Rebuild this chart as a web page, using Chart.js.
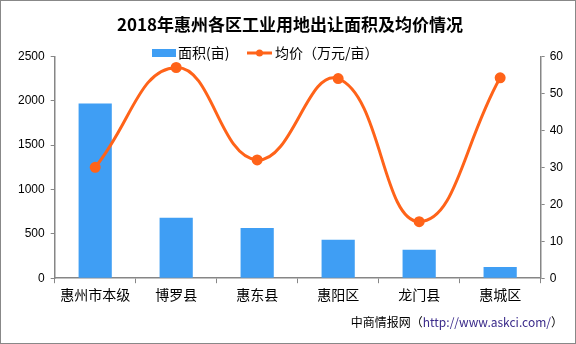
<!DOCTYPE html>
<html lang="zh">
<head>
<meta charset="UTF-8">
<title>2018年惠州各区工业用地出让面积及均价情况</title>
<script src="https://cdn.jsdelivr.net/npm/chart.js"></script>
<style>
  html, body { margin: 0; padding: 0; background: #fff; }
  #wrap { width: 576px; height: 344px; position: relative; }
</style>
</head>
<body>
<div id="wrap"><canvas id="chart" width="576" height="344"></canvas></div>
<script>
// data
const districts = ['惠州市本级', '博罗县', '惠东县', '惠阳区', '龙门县', '惠城区'];
const areaMu = [1970, 680, 566, 432, 320, 127];       // 面积(亩)
const avgPrice = [30, 57, 32, 54, 15.3, 54.2];         // 均价（万元/亩）
const areaTicks = [0, 500, 1000, 1500, 2000, 2500];
const priceTicks = [0, 10, 20, 30, 40, 50, 60];

const BLUE = '#3f9ef4';
const ORANGE = '#ff6319';
const AXIS = '#868686';
const FONT = '"Liberation Sans", "Noto Sans CJK SC", sans-serif';
const CJK = '"Noto Sans CJK SC", sans-serif';

// legend, source line and frame drawn by hand
const extras = {
  id: 'extras',
  afterDraw(chart) {
    const ctx = chart.ctx;
    ctx.save();
    // legend
    ctx.font = '14px ' + CJK;
    ctx.textBaseline = 'middle';
    const ly = 53;
    ctx.fillStyle = BLUE;
    ctx.fillRect(152, ly - 4, 24, 8);
    ctx.fillStyle = '#000';
    ctx.fillText('面积(亩)', 178, ly);
    ctx.strokeStyle = ORANGE;
    ctx.lineWidth = 3;
    ctx.beginPath();
    ctx.moveTo(247, ly);
    ctx.lineTo(272, ly);
    ctx.stroke();
    ctx.fillStyle = ORANGE;
    ctx.beginPath();
    ctx.arc(259.5, ly, 3.5, 0, Math.PI * 2);
    ctx.fill();
    ctx.fillStyle = '#000';
    ctx.fillText('均价（万元/亩）', 275, ly);
    // source
    ctx.font = '12px ' + CJK;
    ctx.textAlign = 'right';
    const tail = 'http://www.askci.com/）';
    const tw = ctx.measureText(tail).width;
    ctx.fillStyle = '#000';
    ctx.fillText('中商情报网（', 563 - tw, 322);
    ctx.fillStyle = '#3a2a8a';
    ctx.fillText('http://www.askci.com/', 563 - ctx.measureText('）').width, 322);
    ctx.fillStyle = '#000';
    ctx.fillText('）', 563, 322);
    // frame
    ctx.strokeStyle = '#888';
    ctx.lineWidth = 1;
    ctx.strokeRect(0.5, 0.5, 575, 343);
    ctx.restore();
  }
};

new Chart(document.getElementById('chart').getContext('2d'), {
  data: {
    labels: districts,
    datasets: [
      {
        type: 'line',
        label: '均价（万元/亩）',
        data: avgPrice,
        yAxisID: 'yPrice',
        borderColor: ORANGE,
        backgroundColor: ORANGE,
        borderWidth: 3,
        pointRadius: 4,
        pointHoverRadius: 4,
        tension: 0.45,
        order: 0
      },
      {
        type: 'bar',
        label: '面积(亩)',
        data: areaMu,
        yAxisID: 'yArea',
        backgroundColor: BLUE,
        barPercentage: 0.41,
        categoryPercentage: 1,
        order: 1
      }
    ]
  },
  options: {
    responsive: false,
    animation: false,
    layout: { padding: { left: 12, right: 8, top: 0, bottom: 38 } },
    plugins: {
      legend: { display: false },
      tooltip: { enabled: false },
      title: {
        display: true,
        text: '2018年惠州各区工业用地出让面积及均价情况',
        color: '#000',
        font: { family: CJK, size: 17, weight: 'bold' },
        padding: { top: 14, bottom: 22 }
      }
    },
    scales: {
      x: {
        grid: { drawOnChartArea: false, drawTicks: true, tickLength: 5, color: AXIS, offset: true },
        border: { color: AXIS, width: 1.5 },
        ticks: { color: '#000', font: { family: CJK, size: 14 }, padding: 3, maxRotation: 0 }
      },
      yArea: {
        position: 'left',
        min: 0,
        max: 2500,
        afterBuildTicks: axis => { axis.ticks = areaTicks.map(v => ({ value: v })); },
        grid: { drawOnChartArea: false, tickLength: 4, color: AXIS },
        border: { color: AXIS, width: 1.5 },
        ticks: { color: '#000', font: { family: FONT, size: 12 }, padding: 6, callback: v => String(v) }
      },
      yPrice: {
        position: 'right',
        min: 0,
        max: 60,
        afterBuildTicks: axis => { axis.ticks = priceTicks.map(v => ({ value: v })); },
        grid: { drawOnChartArea: false, tickLength: 4, color: AXIS },
        border: { color: AXIS, width: 1.5 },
        ticks: { color: '#000', font: { family: FONT, size: 12 }, padding: 5, callback: v => String(v) }
      }
    }
  },
  plugins: [extras]
});
</script>
</body>
</html>
